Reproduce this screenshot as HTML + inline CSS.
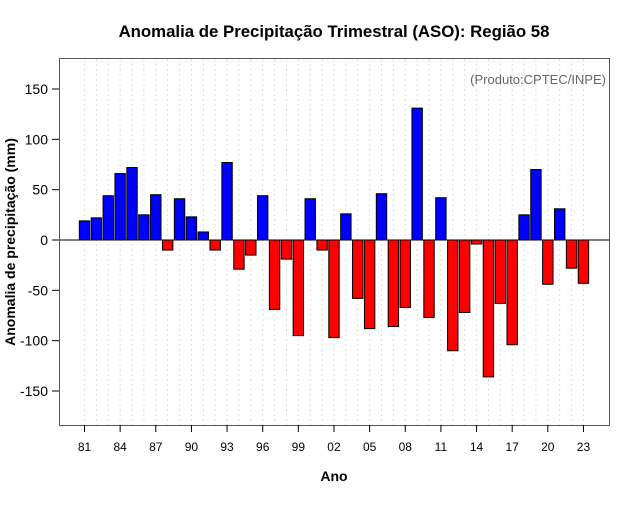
<!DOCTYPE html>
<html><head><meta charset="utf-8"><style>
body{margin:0;background:#fff;}
svg text{font-family:"Liberation Sans",sans-serif;}
</style></head><body>
<svg id="chart" width="640" height="500" xmlns="http://www.w3.org/2000/svg">
<rect width="640" height="500" fill="#fff"/>
<text x="334" y="37" text-anchor="middle" font-size="16.8" font-weight="bold">Anomalia de Precipitação Trimestral (ASO): Região 58</text>
<g id="grid"></g>
<g id="bars"></g>
<line x1="59" x2="609" y1="240" y2="240" stroke="#000" stroke-width="1"/>
<rect x="59.5" y="58.5" width="550" height="367" fill="none" stroke="#555"/>
<g id="axes"></g>
<text x="606" y="84" text-anchor="end" font-size="13" fill="#666">(Produto:CPTEC/INPE)</text>
<text x="334" y="481" text-anchor="middle" font-size="14" font-weight="bold">Ano</text>
<text transform="translate(15,242) rotate(-90)" text-anchor="middle" font-size="14" font-weight="bold">Anomalia de precipitação (mm)</text>
</svg>
<script>
const years = [1981,1982,1983,1984,1985,1986,1987,1988,1989,1990,1991,1992,1993,1994,1995,1996,1997,1998,1999,2000,2001,2002,2003,2004,2005,2006,2007,2008,2009,2010,2011,2012,2013,2014,2015,2016,2017,2018,2019,2020,2021,2022,2023];
const anomalies = [19,22,44,66,72,25,45,-10,41,23,8,-10,77,-29,-15,44,-69,-19,-95,41,-10,-97,26,-58,-88,46,-86,-67,131,-77,42,-110,-72,-4,-136,-63,-104,25,70,-44,31,-28,-43];
const yTicks = [-150,-100,-50,0,50,100,150];
const xTickLabels = ["81","84","87","90","93","96","99","02","05","08","11","14","17","20","23"];
const NS="http://www.w3.org/2000/svg";
const x0=84.5, step=11.88;
function xs(year){return x0+(year-years[0])*step;}
function ys(v){return 240 - v*(151/150);}
const grid=document.getElementById('grid'), bars=document.getElementById('bars'), axes=document.getElementById('axes');
function mk(tag,attrs,parent){const e=document.createElementNS(NS,tag);for(const k in attrs)e.setAttribute(k,attrs[k]);parent.appendChild(e);return e;}
years.forEach((yr,i)=>{
  const g=mk('line',{x1:xs(yr),x2:xs(yr),y1:59,y2:425,stroke:'#ddd','stroke-dasharray':'2,3'},grid);
  
  
  const v=anomalies[i];
  const y=Math.min(ys(v),ys(0)), h=Math.abs(ys(v)-ys(0));
  const r=mk('rect',{x:xs(yr)-5.2,y:y,width:10.4,height:h,fill:v>=0?'#0000ff':'#ff0000',stroke:'#000','stroke-width':1},bars);
  
  
});
yTicks.forEach(t=>{
  const l=mk('line',{x1:52,x2:59,y1:ys(t),y2:ys(t),stroke:'#000'},axes);
  
  
  const tx=mk('text',{x:48,y:ys(t)+5,'text-anchor':'end','font-size':14},axes);
  tx.textContent=t;
  
  
});
xTickLabels.forEach((lab,i)=>{
  const yr=years[0]+i*3;
  const l=mk('line',{x1:xs(yr),x2:xs(yr),y1:425,y2:432,stroke:'#000'},axes);
  
  
  const tx=mk('text',{x:xs(yr),y:451,'text-anchor':'middle','font-size':12},axes);
  tx.textContent=lab;
  
  
});
</script>
</body></html>
